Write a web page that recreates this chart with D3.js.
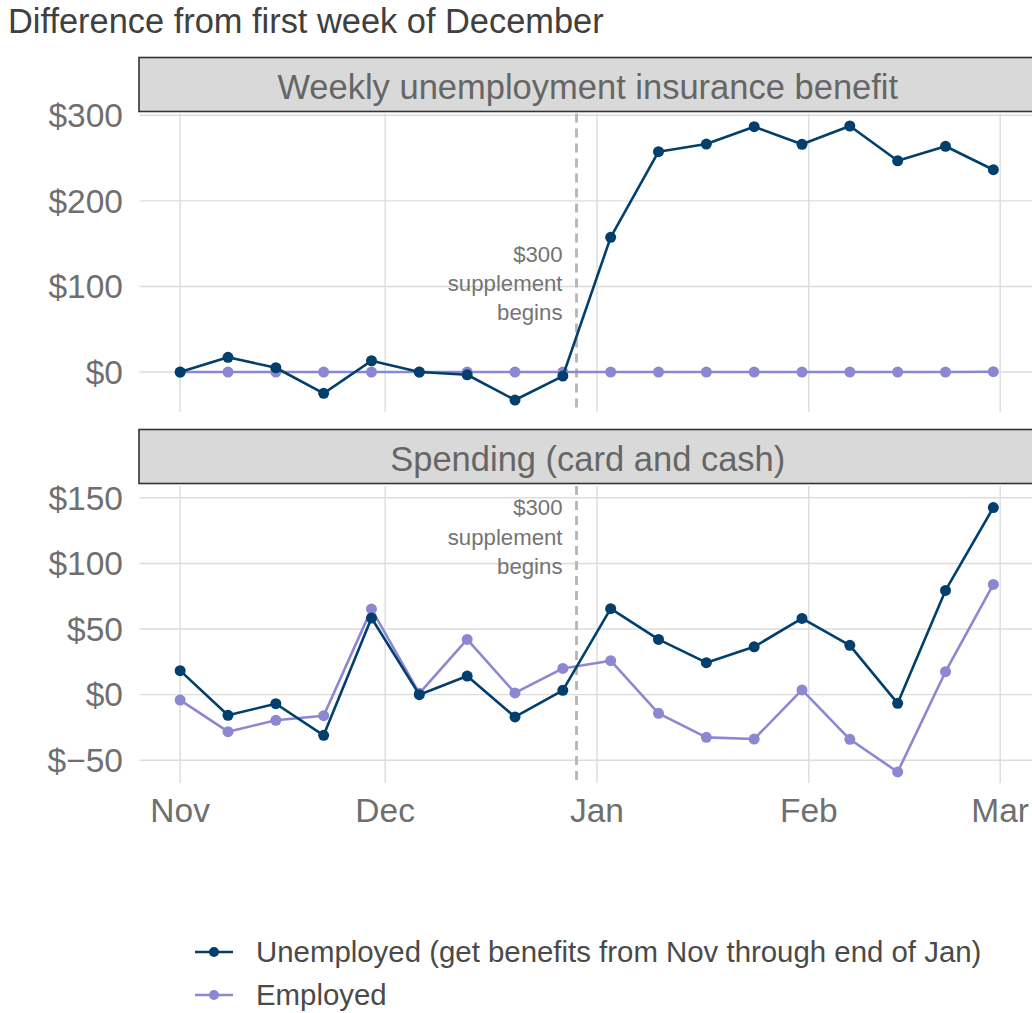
<!DOCTYPE html>
<html>
<head>
<meta charset="utf-8">
<script src="https://cdn.jsdelivr.net/npm/d3@7"></script>
<style>
  html, body { margin: 0; padding: 0; background: #ffffff; }
  svg { display: block; font-family: "Liberation Sans", Arial, Helvetica, sans-serif; }
</style>
</head>
<body>
<svg id="chart" width="1032" height="1013"></svg>
<script>
// ---- Data ----
const weeks = ["2020-11-01","2020-11-08","2020-11-15","2020-11-22","2020-11-29","2020-12-06",
               "2020-12-13","2020-12-20","2020-12-27","2021-01-03","2021-01-10","2021-01-17",
               "2021-01-24","2021-01-31","2021-02-07","2021-02-14","2021-02-21","2021-02-28"];
const seriesNames = ["Unemployed (get benefits from Nov through end of Jan)", "Employed"];
const facetTitles = ["Weekly unemployment insurance benefit", "Spending (card and cash)"];
const unemployedBenefit = [0, 17.2, 5, -24.9, 13.2, 0, -3.2, -32.7, -4.7, 157.4, 257.5, 266.4, 286.7, 266.1, 287.5, 246.9, 263.8, 236.4];
const employedBenefit   = [0, 0, 0, 0, 0, 0, 0, 0, 0, 0, 0, 0, 0, 0, 0, 0, 0, 0.4];
const unemployedSpending = [18.3, -15.7, -6.9, -31, 58.4, 0, 14.2, -17, 3.3, 65.5, 42.1, 24.4, 36.5, 58.1, 37.6, -6.6, 79.4, 142.6];
const employedSpending   = [-4.1, -28.2, -19.5, -16, 65.2, 1, 42.1, 1.3, 20, 25.9, -14.2, -32.5, -33.8, 3.6, -34, -58.9, 17.5, 84];
const benefitTicks = [0, 100, 200, 300];
const spendingTicks = [-50, 0, 50, 100, 150];
const monthTicks = ["2020-11-01","2020-12-01","2021-01-01","2021-02-01","2021-03-01"];
const monthLabels = ["Nov","Dec","Jan","Feb","Mar"];
const supplementDate = "2020-12-29";
const annotationLines = ["$300", "supplement", "begins"];
const titleText = "Difference from first week of December";

// ---- Styles ----
const colors = ["#023f6c", "#8c87d2"];
const parse = d3.utcParse("%Y-%m-%d");
const dates = weeks.map(parse);

const svg = d3.select("#chart");
const W = 1032;

// x scale with ggplot-like 5% expansion
const left = 139.5, right = 1034;
const span = dates[dates.length - 1] - dates[0];
const x = d3.scaleUtc()
  .domain([new Date(+dates[0] - span * 0.05), new Date(+dates[dates.length - 1] + span * 0.05)])
  .range([left, right]);

// title
svg.append("text")
  .attr("x", 8).attr("y", 33)
  .attr("font-size", 34.4).attr("fill", "#404040")
  .text(titleText);

const facets = [
  { title: facetTitles[0], stripTop: 57.5, stripBottom: 111.5, top: 113.5, bottom: 412,
    domain: [-46.7, 302.1], ticks: benefitTicks, series: [unemployedBenefit, employedBenefit],
    annY: [138, 104, 70] },
  { title: facetTitles[1], stripTop: 429.5, stripBottom: 483.5, top: 486, bottom: 783,
    domain: [-67.3, 159], ticks: spendingTicks, series: [unemployedSpending, employedSpending],
    annY: [143, 120, 98] }
];

const fmt = v => "$" + (v < 0 ? "\u2212" + Math.abs(v) : v);

facets.forEach((f, fi) => {
  const y = d3.scaleLinear().domain(f.domain).range([f.bottom, f.top]);
  const g = svg.append("g");

  const clipId = "clip" + fi;
  svg.append("clipPath").attr("id", clipId)
    .append("rect").attr("x", left).attr("y", f.top).attr("width", W - left).attr("height", f.bottom - f.top);

  // gridlines
  g.append("g").selectAll("line").data(f.ticks).join("line")
    .attr("x1", left).attr("x2", right)
    .attr("y1", d => y(d)).attr("y2", d => y(d))
    .attr("stroke", "#dcdcdc").attr("stroke-width", 1.4);
  g.append("g").selectAll("line").data(monthTicks.map(parse)).join("line")
    .attr("x1", d => x(d)).attr("x2", d => x(d))
    .attr("y1", f.top).attr("y2", f.bottom)
    .attr("stroke", "#dcdcdc").attr("stroke-width", 1.4);

  // y axis labels
  g.append("g").selectAll("text").data(f.ticks).join("text")
    .attr("x", 123).attr("y", d => y(d)).attr("dy", "0.35em")
    .attr("text-anchor", "end").attr("font-size", 33.5).attr("fill", "#6f6f6f")
    .text(fmt);

  // strip
  g.append("rect")
    .attr("x", left - 0.5).attr("y", f.stripTop)
    .attr("width", (right + 2) - left + 0.5).attr("height", f.stripBottom - f.stripTop)
    .attr("fill", "#d9d9d9").attr("stroke", "#333333").attr("stroke-width", 1.6);
  g.append("text")
    .attr("x", (left + right + 2) / 2).attr("y", (f.stripTop + f.stripBottom) / 2 + 2)
    .attr("dy", "0.35em").attr("text-anchor", "middle")
    .attr("font-size", 34.5).attr("fill", "#666666")
    .text(f.title);

  // dashed supplement line
  const sx = x(parse(supplementDate));
  g.append("line")
    .attr("x1", sx).attr("x2", sx).attr("y1", f.top).attr("y2", f.bottom)
    .attr("stroke", "#b5b5b5").attr("stroke-width", 2.8).attr("stroke-dasharray", "9,6");

  // annotation
  g.append("g").selectAll("text").data(annotationLines).join("text")
    .attr("x", sx - 14).attr("y", (d, i) => y(f.annY[i])).attr("dy", "0.35em")
    .attr("text-anchor", "end").attr("font-size", 22.2).attr("fill", "#747474")
    .text(d => d);

  // series
  const order = [1, 0];
  const line = d3.line().x((d, i) => x(dates[i])).y(d => y(d));
  const sg = g.append("g").attr("clip-path", `url(#${clipId})`);
  order.forEach(si => {
    const vals = f.series[si];
    sg.append("path").datum(vals)
      .attr("d", line).attr("fill", "none")
      .attr("stroke", colors[si]).attr("stroke-width", 2.6).attr("stroke-linejoin", "round");
    sg.append("g").selectAll("circle").data(vals).join("circle")
      .attr("cx", (d, i) => x(dates[i])).attr("cy", d => y(d)).attr("r", 5.5)
      .attr("fill", colors[si]);
  });

  // x axis labels on bottom facet
  if (fi === facets.length - 1) {
    g.append("g").selectAll("text").data(monthTicks).join("text")
      .attr("x", d => x(parse(d))).attr("y", 822)
      .attr("text-anchor", "middle").attr("font-size", 33.5).attr("fill", "#6f6f6f")
      .text((d, i) => monthLabels[i]);
  }
});

// legend
const legendY = [952, 995];
const lg = svg.append("g");
seriesNames.forEach((name, i) => {
  lg.append("line").attr("x1", 195).attr("x2", 233).attr("y1", legendY[i]).attr("y2", legendY[i])
    .attr("stroke", colors[i]).attr("stroke-width", 2.6);
  lg.append("circle").attr("cx", 214).attr("cy", legendY[i]).attr("r", 5)
    .attr("fill", colors[i]);
  lg.append("text").attr("x", 256).attr("y", legendY[i]).attr("dy", "0.35em")
    .attr("font-size", 29.4).attr("fill", "#4a4a4a").text(name);
});
</script>
</body>
</html>
